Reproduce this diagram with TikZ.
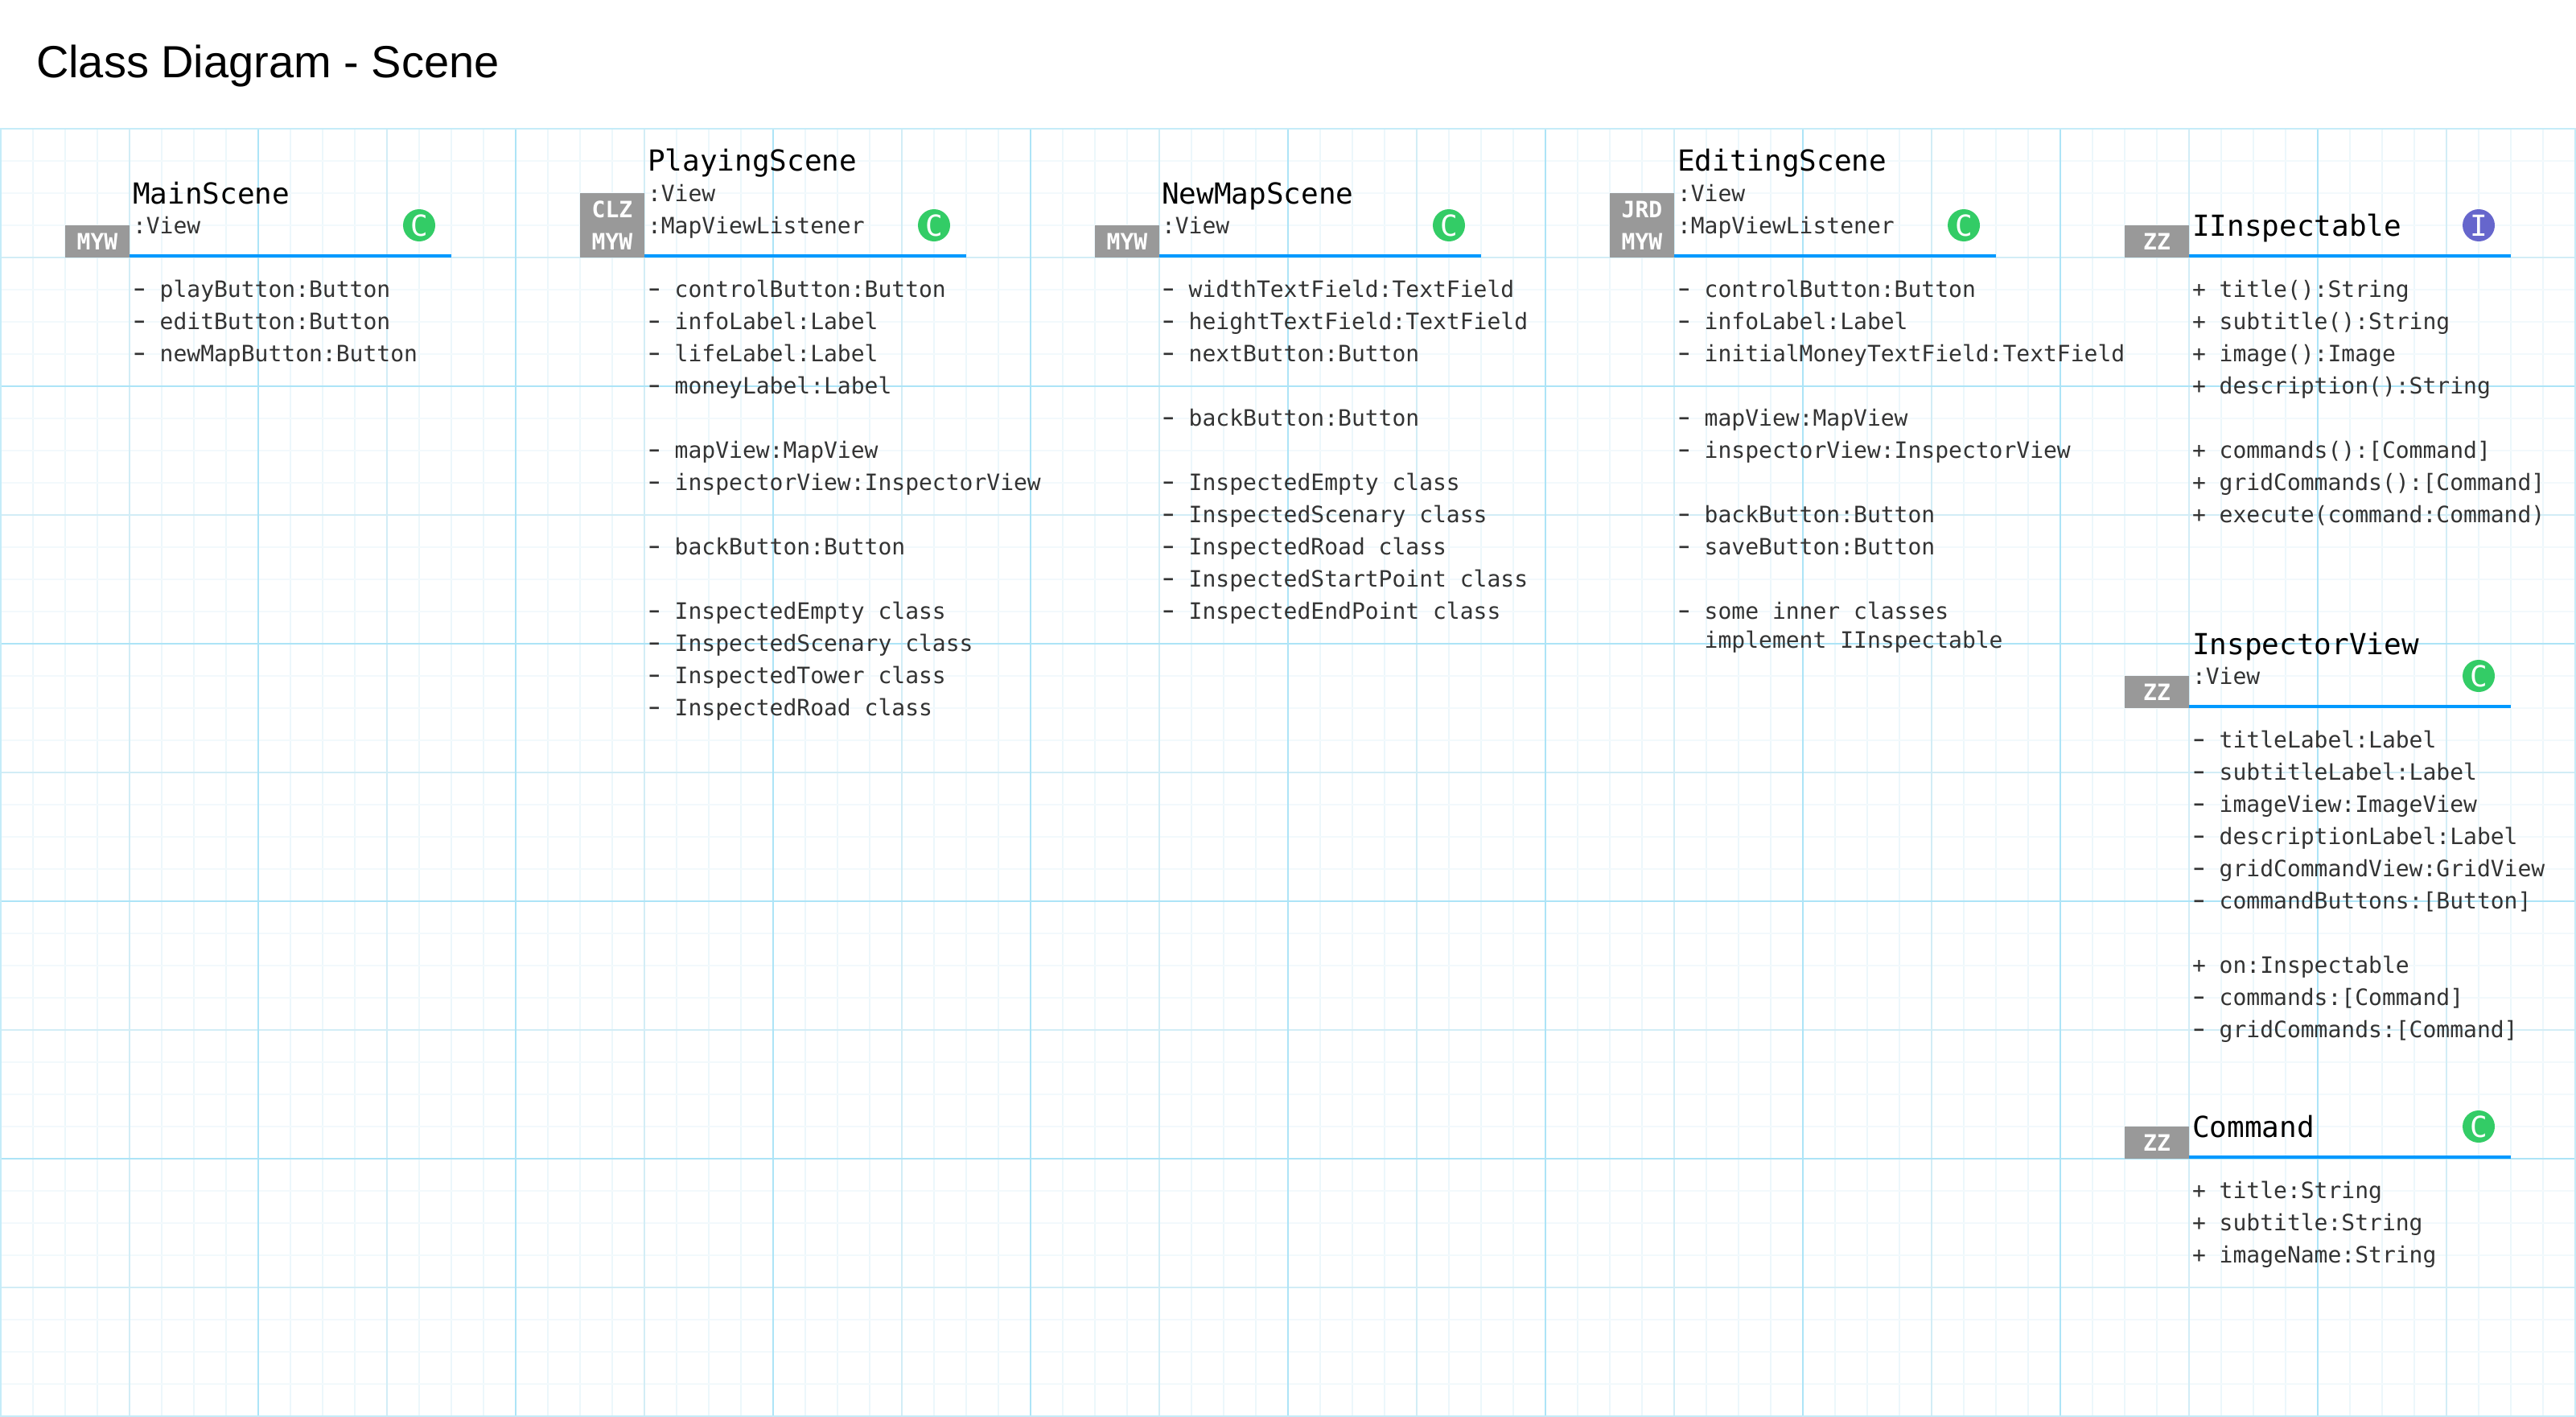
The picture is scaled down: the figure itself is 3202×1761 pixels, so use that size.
\documentclass[tikz,border=0pt]{standalone}
\usepackage{graphicx}
\usepackage{fontspec}
\setmainfont{Liberation Sans}
\setmonofont{DejaVu Sans Mono}
\definecolor{gridminorv}{HTML}{ECF7FB}
\definecolor{gridminorh}{HTML}{F2F9FC}
\definecolor{gridmid}{HTML}{D2EDF6}
\definecolor{gridstrong}{HTML}{ADE4F7}
\definecolor{gridedge}{HTML}{C5ECF8}
\definecolor{rulecol}{HTML}{0099FF}
\definecolor{tagcol}{HTML}{999999}
\definecolor{classcol}{HTML}{33CC66}
\definecolor{ifacecol}{HTML}{6666CC}
\definecolor{bodycol}{HTML}{333333}
\newcommand{\hy}{\makebox[0pt][l]{\makebox[0.602em][c]{\scalebox{1.6}[1.2]{-}}}\hspace{0.602em}}
\tikzset{
  x=0.5pt,y=-0.5pt,
  gridline/.style={line width=1pt},
  txt/.style={anchor=base west,inner sep=0pt,outer sep=0pt},
  classname/.style={txt,text=black,font=\fontsize{18}{20}\selectfont\ttfamily},
  member/.style={txt,text=bodycol,font=\fontsize{14}{20}\selectfont\ttfamily},
  tagbox/.style={fill=tagcol,text=white,inner sep=0pt,minimum width=40pt,align=center,
    font=\fontsize{14}{20}\selectfont\ttfamily\bfseries},
  badge/.style={circle,inner sep=0pt,minimum size=20pt,text=white,
    font=\fontsize{18}{20}\selectfont\ttfamily},
  rulebar/.style={rulecol,line width=2pt},
}
\begin{document}
\begin{tikzpicture}
\useasboundingbox (0,0) rectangle (3202,1761);
\fill[white] (0,0) rectangle (3202,1761);
% minor grid
\foreach \k in {0,...,79} \draw[gridline,gridminorv] ({1+40*\k},160) -- ({1+40*\k},1761);
\foreach \k in {0,...,39} \draw[gridline,gridminorh] (0,{160+40*\k}) -- (3202,{160+40*\k});
% medium grid
\foreach \k in {1,...,19} \draw[gridline,gridmid] ({1+160*\k},160) -- ({1+160*\k},1761);
\foreach \k in {1,...,9} \draw[gridline,gridmid] (0,{160+160*\k}) -- (3202,{160+160*\k});
% strong grid
\foreach \k in {1,...,9} \draw[gridline,gridstrong] ({1+320*\k},160) -- ({1+320*\k},1761);
\foreach \k in {1,2,3,4} \draw[gridline,gridstrong] (0,{160+320*\k}) -- (3202,{160+320*\k});
% edges
\draw[gridline,gridedge] (1,160) -- (1,1761);
\draw[gridline,gridedge] (3201,160) -- (3201,1761);
\draw[gridline,gridedge] (0,160) -- (3202,160);
\draw[gridline,gridedge] (0,1760) -- (3202,1760);

\node[txt,font=\fontsize{28}{32}\selectfont] (title) at (45,96) {Class Diagram - Scene};

% MainScene
\draw[rulebar] (161,318) -- (561,318);
\node[tagbox,minimum height=20pt] (t1) at (121,300) {MYW};
\node[classname] (c1) at (165,253) {MainScene};
\node[member] (s1a) at (165,290) {:View};
\node[badge,fill=classcol] (b1) at (521,280) {C};
\foreach \r/\t in {0/\hy{} playButton:Button,1/\hy{} editButton:Button,2/\hy{} newMapButton:Button}
  \node[member] (m1-\r) at (165,{369+40*\r}) {\t};

% PlayingScene
\draw[rulebar] (801,318) -- (1201,318);
\node[tagbox,minimum height=40pt] (t2) at (761,280) {CLZ\\MYW};
\node[classname] (c2) at (805,212) {PlayingScene};
\node[member] (s2a) at (805,250) {:View};
\node[member] (s2b) at (805,290) {:MapViewListener};
\node[badge,fill=classcol] (b2) at (1161,280) {C};
\foreach \r/\t in {0/\hy{} controlButton:Button,1/\hy{} infoLabel:Label,2/\hy{} lifeLabel:Label,3/\hy{} moneyLabel:Label,
  5/\hy{} mapView:MapView,6/\hy{} inspectorView:InspectorView,8/\hy{} backButton:Button,
  10/\hy{} InspectedEmpty class,11/\hy{} InspectedScenary class,12/\hy{} InspectedTower class,13/\hy{} InspectedRoad class}
  \node[member] (m2-\r) at (805,{369+40*\r}) {\t};

% NewMapScene
\draw[rulebar] (1441,318) -- (1841,318);
\node[tagbox,minimum height=20pt] (t3) at (1401,300) {MYW};
\node[classname] (c3) at (1444,253) {NewMapScene};
\node[member] (s3a) at (1444,290) {:View};
\node[badge,fill=classcol] (b3) at (1801,280) {C};
\foreach \r/\t in {0/\hy{} widthTextField:TextField,1/\hy{} heightTextField:TextField,2/\hy{} nextButton:Button,
  4/\hy{} backButton:Button,6/\hy{} InspectedEmpty class,7/\hy{} InspectedScenary class,8/\hy{} InspectedRoad class,
  9/\hy{} InspectedStartPoint class,10/\hy{} InspectedEndPoint class}
  \node[member] (m3-\r) at (1444,{369+40*\r}) {\t};

% EditingScene
\draw[rulebar] (2081,318) -- (2481,318);
\node[tagbox,minimum height=40pt] (t4) at (2041,280) {JRD\\MYW};
\node[classname] (c4) at (2085,212) {EditingScene};
\node[member] (s4a) at (2085,250) {:View};
\node[member] (s4b) at (2085,290) {:MapViewListener};
\node[badge,fill=classcol] (b4) at (2441,280) {C};
\foreach \r/\t in {0/\hy{} controlButton:Button,1/\hy{} infoLabel:Label,2/\hy{} initialMoneyTextField:TextField,
  4/\hy{} mapView:MapView,5/\hy{} inspectorView:InspectorView,7/\hy{} backButton:Button,8/\hy{} saveButton:Button,
  10/\hy{} some inner classes}
  \node[member] (m4-\r) at (2085,{369+40*\r}) {\t};
\node[member] (m4-x) at (2085,805) {\phantom{- }implement IInspectable};

% IInspectable
\draw[rulebar] (2721,318) -- (3121,318);
\node[tagbox,minimum height=20pt] (t5) at (2681,300) {ZZ};
\node[classname] (c5) at (2725,293) {IInspectable};
\node[badge,fill=ifacecol] (b5) at (3081,280) {I};
\foreach \r/\t in {0/+ title():String,1/+ subtitle():String,2/+ image():Image,3/+ description():String,
  5/+ commands():[Command],6/+ gridCommands():[Command],7/+ execute(command:Command)}
  \node[member] (m5-\r) at (2725,{369+40*\r}) {\t};

% InspectorView
\draw[rulebar] (2721,878) -- (3121,878);
\node[tagbox,minimum height=20pt] (t6) at (2681,860) {ZZ};
\node[classname] (c6) at (2725,813) {InspectorView};
\node[member] (s6a) at (2725,850) {:View};
\node[badge,fill=classcol] (b6) at (3081,840) {C};
\foreach \r/\t in {0/\hy{} titleLabel:Label,1/\hy{} subtitleLabel:Label,2/\hy{} imageView:ImageView,3/\hy{} descriptionLabel:Label,
  4/\hy{} gridCommandView:GridView,5/\hy{} commandButtons:[Button],7/+ on:Inspectable,8/\hy{} commands:[Command],9/\hy{} gridCommands:[Command]}
  \node[member] (m6-\r) at (2725,{929+40*\r}) {\t};

% Command
\draw[rulebar] (2721,1438) -- (3121,1438);
\node[tagbox,minimum height=20pt] (t7) at (2681,1420) {ZZ};
\node[classname] (c7) at (2725,1413) {Command};
\node[badge,fill=classcol] (b7) at (3081,1400) {C};
\foreach \r/\t in {0/+ title:String,1/+ subtitle:String,2/+ imageName:String}
  \node[member] (m7-\r) at (2725,{1489+40*\r}) {\t};
\end{tikzpicture}
\end{document}
